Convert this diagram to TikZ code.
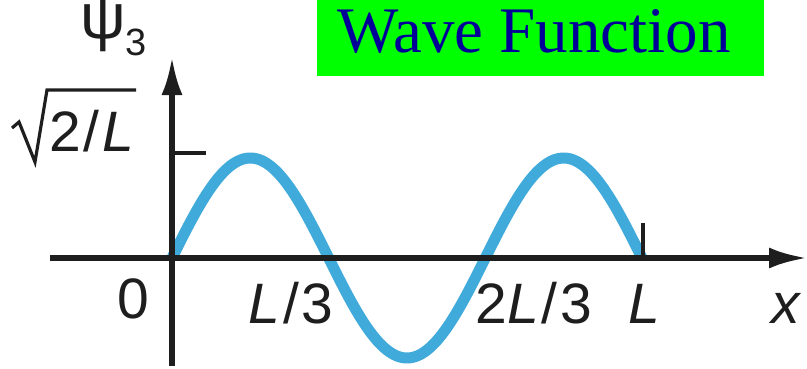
\documentclass[tikz,border=0pt]{standalone}
\usepackage{fontspec}
\setmainfont{Liberation Sans}
\newfontfamily\timesfont{Liberation Serif}
\usetikzlibrary{arrows.meta}
\definecolor{wavecol}{RGB}{64,170,218}
\definecolor{axiscol}{RGB}{30,30,30}
\definecolor{boxgreen}{RGB}{0,255,0}
\definecolor{titleblue}{RGB}{0,0,153}
\newcommand{\myslash}{\hspace{3pt}/\hspace{3pt}}
\tikzset{
  axis/.style={draw=axiscol, line width=5.5pt, -{Latex[length=38pt,width=21pt]}},
  tickline/.style={draw=axiscol, line width=4pt},
  wave/.style={draw=wavecol, line width=11pt},
  lbl/.style={inner sep=0pt, anchor=base, text=axiscol, font=\fontsize{57}{60}\selectfont},
  title/.style={inner sep=0pt, anchor=base west, text=titleblue, font=\timesfont\fontsize{65}{70}\selectfont},
}
\begin{document}
\begin{tikzpicture}[x=1pt,y=-1pt]
\useasboundingbox (0,0) rectangle (807,368);
% title box
\fill[boxgreen] (317,0) rectangle (764,76);
\node[title] (title) at (337,52) {Wave Function};
% wave
\draw[wave] plot[domain=0:470, samples=200] ({172+\x}, {258-100*sin(1.148936*\x)});
% axes
\coordinate (xs) at (50,258);
\coordinate (xe) at (807,258);
\coordinate (ys) at (172,366);
\coordinate (ye) at (172,57);
\draw[axis] (xs) -- (xe);
\draw[axis] (ys) -- (ye);
% ticks
\coordinate (ta) at (172,153);
\coordinate (tb) at (206,153);
\draw[tickline] (ta) -- (tb);
\coordinate (la) at (643,258);
\coordinate (lb) at (643,223);
\draw[tickline] (la) -- (lb);
% radical
\coordinate (r1) at (12,128);
\coordinate (r2) at (19,122);
\coordinate (r3) at (35,162);
\coordinate (r4) at (47,90);
\coordinate (r5) at (136,90);
\draw[draw=axiscol, line width=3.2pt, line join=miter] (r1) -- (r2) -- (r3) -- (r4) -- (r5);
\node[lbl, anchor=base west] (amp) at (49,151) {2\myslash\itshape L};
% psi
\node[lbl, anchor=base west, font=\fontsize{64}{66}\selectfont] (psi) at (80,38) {ψ\raisebox{-17pt}{\fontsize{38}{40}\selectfont 3}};
% axis labels
\node[lbl] (zero) at (133,318) {0};
\node[lbl] (third) at (291,323) {\itshape L\upshape\myslash 3};
\node[lbl] (twothird) at (534,323) {2\itshape L\upshape\myslash 3};
\node[lbl] (ell) at (644,323) {\itshape L};
\node[lbl] (xlab) at (786,323) {\itshape x};
\end{tikzpicture}
\end{document}
